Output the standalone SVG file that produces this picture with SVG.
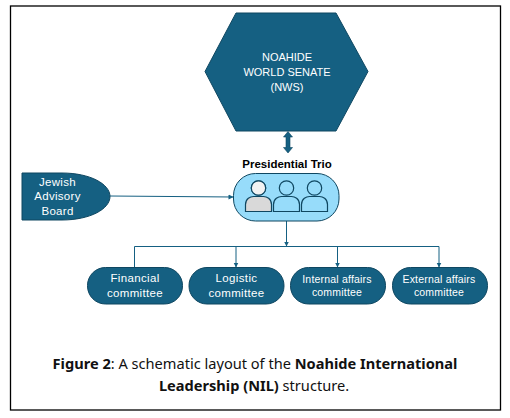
<svg xmlns="http://www.w3.org/2000/svg" width="510" height="418" viewBox="0 0 510 418">
<style>
.n{fill:#156082;stroke:#0f4761;stroke-width:1}
.t{font-family:"Liberation Sans",Arial,sans-serif;fill:#fff;text-anchor:middle}
.c{fill:none;stroke:#156082;stroke-width:1}
.cap{font-family:"Noto Sans",sans-serif;font-size:14.6px;fill:#111;text-anchor:middle}
.cap .b{font-weight:700}
</style>
<defs>
<marker id="a" markerWidth="6" markerHeight="6" refX="4.5" refY="2.5" orient="auto" markerUnits="userSpaceOnUse"><path d="M0 0L5 2.5L0 5Z" fill="#156082"/></marker>
<g id="person"><circle cx="0" cy="-10.5" r="7.2"/><path d="M-13 13V6C-13 0 -8 -2 -5 -2H5C8 -2 13 0 13 6V13Z"/></g>
</defs>
<rect x="10.5" y="6" width="490" height="404" fill="#fff" stroke="#000" stroke-width="1.3"/>
<g id="connectors">
<path class="c" d="M110 196L233 197" marker-end="url(#a)"/>
<path class="c" d="M286.500 221V246" marker-end="url(#a)"/>
<path class="c" d="M134.500 267V246.500H439V267" marker-end="url(#a)"/>
<path class="c" d="M236 246.500V267" marker-end="url(#a)"/>
<path class="c" d="M337.500 246.500V267" marker-end="url(#a)"/>
<path d="M288 131.500L292.500 137H290V147.500H292.500L288 153L283.500 147.500H286V137H283.500Z" fill="#156082" stroke="#0f4761" stroke-width=".6"/>
</g>
<g id="senate">
<path class="n" d="M236 13H336L368 71.500L336 131H236L205 71.500Z"/>
<text class="t" font-size="11"><tspan x="287" y="61">NOAHIDE</tspan><tspan x="287" y="76">WORLD SENATE</tspan><tspan x="287" y="91">(NWS)</tspan></text>
</g>
<g id="trio">
<text x="287" y="168" font-family="'Liberation Sans',Arial,sans-serif" font-weight="700" font-size="11.500" fill="#000" text-anchor="middle">Presidential Trio</text>
<rect x="233.500" y="173.500" width="105.500" height="47.500" rx="22" fill="#97dcfa" stroke="#0f4761"/>
<use href="#person" x="258.500" y="198.500" fill="#d9d9d9" stroke="#0f4761" stroke-width="1.200"/>
<circle cx="258.500" cy="188" r="7.200" fill="#f2f2f2" stroke="#0f4761" stroke-width="1.200"/>
<use href="#person" x="286.500" y="198.500" fill="#97dcfa" stroke="#0f4761" stroke-width="1.200"/>
<use href="#person" x="314.500" y="198.500" fill="#97dcfa" stroke="#0f4761" stroke-width="1.200"/>
</g>
<g id="advisory">
<path class="n" d="M22 173H62C90 173 110 184 110 196.500C110 209 90 220 62 220H22Z"/>
<text class="t" font-size="11.500" letter-spacing=".3"><tspan x="57.500" y="186">Jewish</tspan><tspan x="57.500" y="200">Advisory</tspan><tspan x="57.500" y="215">Board</tspan></text>
</g>
<g id="financial"><rect class="n" x="87.500" y="267.500" width="95" height="36.500" rx="18"/><text class="t" font-size="11.500" letter-spacing=".35"><tspan x="135" y="281.500">Financial</tspan><tspan x="135" y="297">committee</tspan></text></g>
<g id="logistic"><rect class="n" x="189" y="267.500" width="95" height="36.500" rx="18"/><text class="t" font-size="11.500" letter-spacing=".35"><tspan x="236.500" y="281.500">Logistic</tspan><tspan x="236.500" y="297">committee</tspan></text></g>
<g id="internal"><rect class="n" x="290.500" y="267.500" width="95" height="36.500" rx="18"/><text class="t" font-size="10.500" letter-spacing=".2"><tspan x="337" y="283">Internal affairs</tspan><tspan x="337" y="296">committee</tspan></text></g>
<g id="external"><rect class="n" x="392.500" y="267.500" width="95" height="36.500" rx="18"/><text class="t" font-size="10.500" letter-spacing=".2"><tspan x="439" y="283">External affairs</tspan><tspan x="439" y="296">committee</tspan></text></g>
<text class="cap"><tspan x="255" y="369"><tspan class="b">Figure 2</tspan>: A schematic layout of the <tspan class="b">Noahide International</tspan></tspan><tspan x="254" y="391"><tspan class="b">Leadership (NIL)</tspan> structure.</tspan></text>
</svg>
